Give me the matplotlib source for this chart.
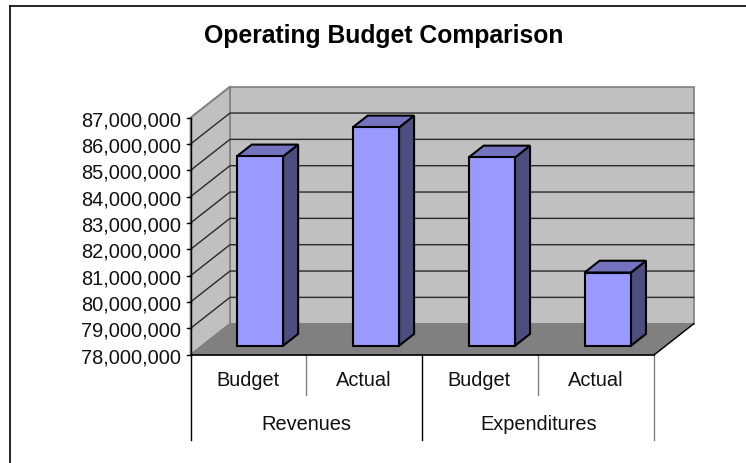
import matplotlib
matplotlib.use("Agg")
import matplotlib.pyplot as plt
from matplotlib.patches import Polygon
from matplotlib.lines import Line2D
from matplotlib.transforms import Affine2D, IdentityTransform

W, H = 746, 464
title = "Operating Budget Comparison"
groups = ["Revenues", "Expenditures"]
categories = ["Budget", "Actual", "Budget", "Actual"]
values = [85190000, 86290000, 85150000, 80780000]
ymin, ymax, ystep = 78000000, 87000000, 1000000

plt.rcParams['font.family'] = ['Liberation Sans', 'DejaVu Sans']
fig = plt.figure(figsize=(W / 100, H / 100), dpi=100, facecolor='white')
PX = IdentityTransform()

# chart-area border (left and top edges reach the image edge region)
fig.add_artist(Line2D([9.5 / W, 9.5 / W], [0, 1 - 6.5 / H], transform=fig.transFigure, color='black', lw=1.2))
fig.add_artist(Line2D([9.5 / W, 1], [1 - 6.5 / H, 1 - 6.5 / H], transform=fig.transFigure, color='black', lw=1.2))

L, R, B, T = 190.5, 654.3, 355.7, 118.7
ax = fig.add_axes([L / W, 1 - B / H, (R - L) / W, (B - T) / H])
ax.set_xlim(0, len(values))
ax.set_ylim(ymin, ymax)
ax.axis('off')

DX, DY = 39.5, 31.0
TEXT = '#111111'


def shifted(d):
    return ax.transData + Affine2D().translate(DX * d, DY * d)


def pts(d, *xy):
    t = shifted(d)
    return [t.transform(p) for p in xy]


def poly(points, **kw):
    ax.add_patch(Polygon(points, closed=True, transform=PX, clip_on=False, **kw))


def seg(xs, ys, **kw):
    ax.add_line(Line2D(xs, ys, transform=PX, clip_on=False, **kw))


n = len(values)
# walls and floor
poly(pts(1, (0, ymin), (n, ymin), (n, ymax), (0, ymax)), fc='#C0C0C0', ec='#808080', lw=1.2, zorder=1)
poly(pts(0, (0, ymin), (0, ymax)) + pts(1, (0, ymax), (0, ymin)), fc='#C0C0C0', ec='#808080', lw=1.2, zorder=1)
poly(pts(0, (0, ymin), (n, ymin)) + pts(1, (n, ymin), (0, ymin)), fc='#808080', ec='#808080', lw=0.8, zorder=2)

# gridlines
levels = list(range(ymin + ystep, ymax, ystep))
for v in levels:
    a, b, c = pts(0, (0, v))[0], pts(1, (0, v))[0], pts(1, (n, v))[0]
    seg([a[0], b[0], c[0]], [a[1], b[1], c[1]], color='#2a2a2a', lw=1.0, zorder=3)
a, b = pts(0, (0, ymax))[0], pts(1, (0, ymax))[0]
seg([a[0], b[0]], [a[1], b[1]], color='#808080', lw=1.2, zorder=3)

# bars
d0, d1 = 0.29, 0.67
for i, v in enumerate(values):
    x0, x1 = i + 0.3, i + 0.7
    kw = dict(ec='black', lw=1.5, joinstyle='miter', zorder=5 + i)
    poly(pts(d0, (x1, ymin), (x1, v)) + pts(d1, (x1, v), (x1, ymin)), fc='#4D4D80', **kw)
    poly(pts(d0, (x0, v), (x1, v)) + pts(d1, (x1, v), (x0, v)), fc='#7373BF', **kw)
    poly(pts(d0, (x0, ymin), (x1, ymin), (x1, v), (x0, v)), fc='#9999FF', **kw)

# axis lines, ticks, labels
p0 = ax.transData.transform((0, ymin))
p1 = ax.transData.transform((0, ymax))
p2 = ax.transData.transform((n, ymin))
seg([p0[0], p1[0]], [p0[1], p1[1]], color='black', lw=1.0, zorder=20)
seg([p0[0], p2[0]], [p0[1], p2[1]], color='black', lw=1.2, zorder=20)
for v in range(ymin, ymax + 1, ystep):
    p = ax.transData.transform((0, v))
    seg([p[0] - 4, p[0]], [p[1], p[1]], color='black', lw=1.0, zorder=20)
    ax.text(p[0] - 9, p[1], f"{v:,}", transform=PX, ha='right', va='center_baseline',
            fontsize=14.4, color=TEXT, clip_on=False)
a, b = pts(0, (n, ymin))[0], pts(1, (n, ymin))[0]
seg([a[0], b[0]], [a[1], b[1]], color='black', lw=1.0, zorder=20)

# multi-level category axis
y0 = p0[1]
for i in range(n + 1):
    x = ax.transData.transform((i, ymin))[0]
    if i % 2:
        seg([x, x], [y0, y0 - 40], color='#808080', lw=1.0)
    elif i == n:
        seg([x, x], [y0, y0 - 85], color='#808080', lw=1.0)
    else:
        seg([x, x], [y0, y0 - 85], color='black', lw=1.0)
for i, c in enumerate(categories):
    x = ax.transData.transform((i + 0.5, ymin))[0]
    ax.text(x - 1, y0 - 24.5, c, transform=PX, ha='center', va='center', fontsize=14.4, color=TEXT, clip_on=False)
for i, g in enumerate(groups):
    x = ax.transData.transform((2 * i + 1, ymin))[0]
    ax.text(x, y0 - 68.5, g, transform=PX, ha='center', va='center', fontsize=14.4, color=TEXT, clip_on=False)

fig.text(384 / W, 1 - 36.5 / H, title, ha='center', va='center', fontsize=17.8, fontweight='bold')
fig.savefig('out.png', dpi=100)
